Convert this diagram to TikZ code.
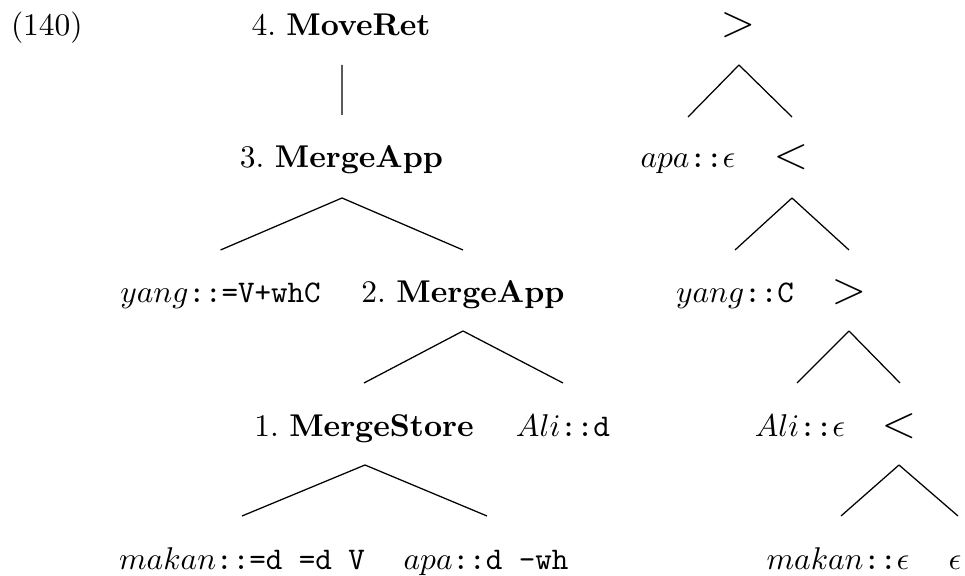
\documentclass[tikz,border=0pt]{standalone}
\usetikzlibrary{calc}
\begin{document}
\begin{tikzpicture}[x=0.3177pt,y=-0.3177pt,
  lbl/.style={anchor=base,inner sep=0pt,outer sep=0pt},
  rel/.style={lbl,font=\Large},
  edge/.style={line width=0.4pt}]
\useasboundingbox (0,0) rectangle (965,576);
% left derivation tree
\node[lbl,anchor=base west] (ex) at (11,36) {(140)};
\node[lbl] (m4) at (341,36) {4.\ \textbf{MoveRet}};
\node[lbl] (m3) at (341.5,168) {3.\ \textbf{MergeApp}};
\node[lbl] (yang) at (220.5,303) {$yang$\texttt{::=V+whC}};
\node[lbl] (m2) at (463,303) {2.\ \textbf{MergeApp}};
\node[lbl] (m1) at (364,437) {1.\ \textbf{MergeStore}};
\node[lbl] (ali) at (563,437) {$Ali$\texttt{::d}};
\node[lbl] (makan) at (242,570) {$makan$\texttt{::=d =d V}};
\node[lbl] (apa) at (486,570) {$apa$\texttt{::d -wh}};
\draw[edge] ($(m4.base)+(1,29)$) -- ($(m3.base)+(0.5,-53)$);
\draw[edge] ($(m3.base)+(0.5,30)$) -- ($(yang.base)+(0,-53)$);
\draw[edge] ($(m3.base)+(0.5,30)$) -- ($(m2.base)+(0,-53)$);
\draw[edge] ($(m2.base)+(0,28)$) -- ($(m2.base)+(-99,80)$);
\draw[edge] ($(m2.base)+(0,28)$) -- ($(ali.base)+(0,-54)$);
\draw[edge] ($(m1.base)+(1,28)$) -- ($(makan.base)+(0,-54)$);
\draw[edge] ($(m1.base)+(1,28)$) -- ($(apa.base)+(1,-54)$);
% right derived tree
\node[rel] (r0) at (738,37) {$>$};
\node[lbl] (apae) at (688,168) {$apa$\texttt{::}$\epsilon$};
\node[rel] (r1) at (791,169) {$<$};
\node[lbl] (yangc) at (735,303) {$yang$\texttt{::C}};
\node[rel] (r2) at (849,304) {$>$};
\node[lbl] (alie) at (800,437) {$Ali$\texttt{::}$\epsilon$};
\node[rel] (r3) at (899,438) {$<$};
\node[lbl] (makane) at (838,570) {$makan$\texttt{::}$\epsilon$};
\node[lbl] (eps) at (955,570) {$\epsilon$};
\draw[edge] ($(r0.base)+(1,28)$) -- ($(apae.base)+(0,-51)$);
\draw[edge] ($(r0.base)+(1,28)$) -- ($(r1.base)+(1,-52)$);
\draw[edge] ($(r1.base)+(1,29)$) -- ($(yangc.base)+(0,-53)$);
\draw[edge] ($(r1.base)+(1,29)$) -- ($(r2.base)+(0,-54)$);
\draw[edge] ($(r2.base)+(0,27)$) -- ($(r2.base)+(-52,79)$);
\draw[edge] ($(r2.base)+(0,27)$) -- ($(r3.base)+(1,-55)$);
\draw[edge] ($(r3.base)+(0,27)$) -- ($(makane.base)+(3,-54)$);
\draw[edge] ($(r3.base)+(0,27)$) -- ($(eps.base)+(3,-54)$);
\end{tikzpicture}
\end{document}
